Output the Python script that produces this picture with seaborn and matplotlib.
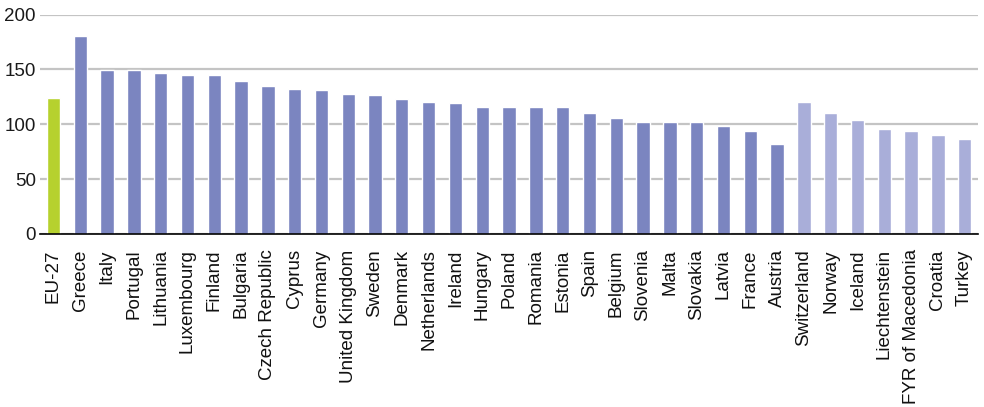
import matplotlib
matplotlib.use("Agg")
import matplotlib.pyplot as plt
import seaborn as sns
import pandas as pd

countries = ["EU-27", "Greece", "Italy", "Portugal", "Lithuania", "Luxembourg", "Finland",
             "Bulgaria", "Czech Republic", "Cyprus", "Germany", "United Kingdom", "Sweden",
             "Denmark", "Netherlands", "Ireland", "Hungary", "Poland", "Romania", "Estonia",
             "Spain", "Belgium", "Slovenia", "Malta", "Slovakia", "Latvia", "France", "Austria",
             "Switzerland", "Norway", "Iceland", "Liechtenstein", "FYR of Macedonia", "Croatia",
             "Turkey"]
values = [124, 180, 149, 149, 147, 145, 145,
          139, 135, 132, 131, 128, 127,
          123, 120, 119, 116, 116, 116, 116,
          110, 106, 102, 102, 102, 98, 94, 82,
          120, 110, 104, 96, 94, 90, 87]
groups = (["EU"] + ["Member"] * 27 + ["Other"] * 7)
yticks = [0, 50, 100, 150, 200]

palette = {"EU": "#b6d12e", "Member": "#7b85c0", "Other": "#a9aed9"}

df = pd.DataFrame({"country": countries, "value": values, "group": groups})

sns.set_style("white")
plt.rcParams["font.family"] = ["Liberation Sans", "DejaVu Sans"]

fig = plt.figure(figsize=(9.84, 4.07), dpi=100)
ax = fig.add_axes([40 / 984, (407 - 234) / 407, 938 / 984, 219.5 / 407])

sns.barplot(data=df, x="country", y="value", hue="group", palette=palette,
            dodge=False, legend=False, width=0.5, ax=ax, saturation=1)

ax.set_ylim(0, 200)
ax.set_xlim(-0.5, len(countries) - 0.5)
ax.set_yticks(yticks)
ax.set_yticklabels([str(v) for v in yticks], fontsize=13.5, color="#1a1a1a")
ax.yaxis.grid(True, color="#c4c4c4", linewidth=1.6)
ax.set_axisbelow(True)
ax.tick_params(axis="y", length=0, pad=3)

ax.set_xticks(range(len(countries)))
ax.set_xticklabels(countries, rotation=90, fontsize=13.5, color="#111111", ha="center", va="top")
ax.tick_params(axis="x", length=0, pad=11)
# boundary tick marks
ax.set_xticks([i - 0.5 for i in range(len(countries) + 1)], minor=True)
ax.tick_params(axis="x", which="minor", length=5, width=1.2, color="black", direction="out")

for s in ["left", "right", "top"]:
    ax.spines[s].set_visible(False)
ax.spines["bottom"].set_color("black")
ax.spines["bottom"].set_linewidth(1.2)
ax.set_xlabel("")
ax.set_ylabel("")

fig.savefig("out.png", dpi=100)
